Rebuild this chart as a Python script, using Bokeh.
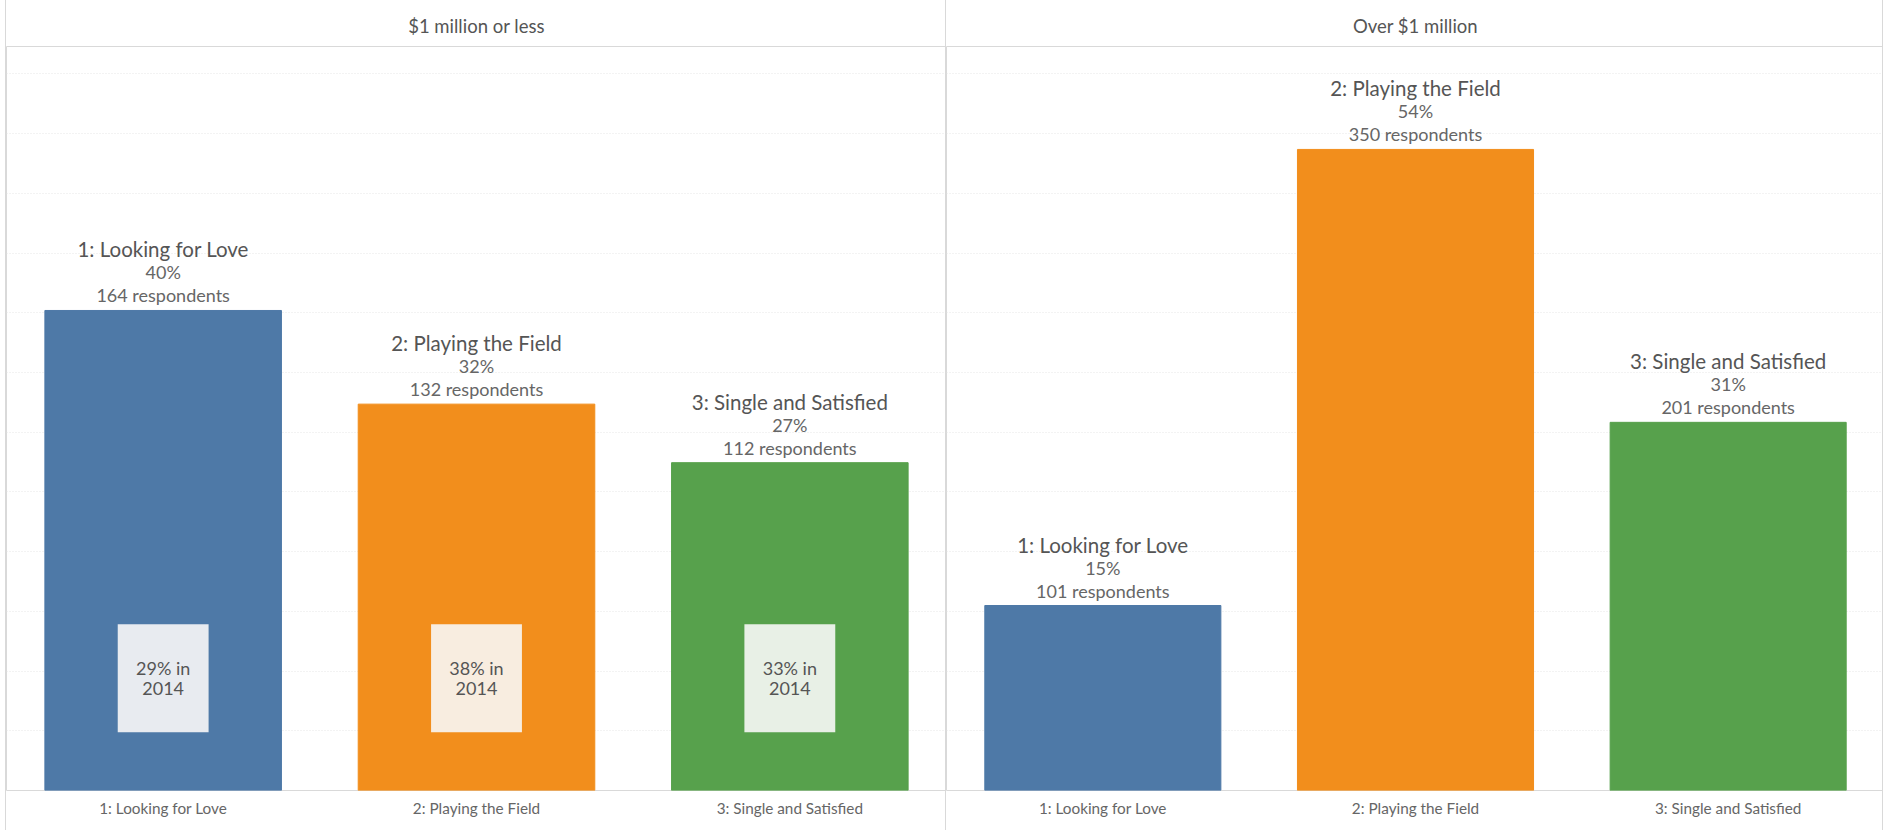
from bokeh.plotting import figure
from bokeh.models import ColumnDataSource, FactorRange, Range1d, FixedTicker
from bokeh.layouts import row
from bokeh.embed import file_html
from bokeh.resources import INLINE
from bokeh.core.properties import value

# ---- data ----
categories = ["1: Looking for Love", "2: Playing the Field", "3: Single and Satisfied"]
panel_titles = ["$1 million or less", "Over $1 million"]
respondents_low = [164, 132, 112]
respondents_high = [101, 350, 201]
pct_2014_low = [29, 38, 33]
bar_colors = ["#4e79a7", "#f28e1c", "#57a14c"]
inset_colors = ["#e8ebf0", "#f8ede0", "#e8f0e6"]
grid_values = [0, 5, 10, 15, 20, 25, 30, 35, 40, 45, 50, 55, 60]

FONT = "Lato"
Y_MAX = 62.3
INSET_Y = 9.4
BORDER = "#d9d9d9"


def make_panel(title, resp, width, min_left, styles, inset_pct=None):
    total = sum(resp)
    share = [r / total * 100 for r in resp]
    src = ColumnDataSource(dict(
        cat=categories,
        share=share,
        color=bar_colors,
        pct=[f"{round(s)}%" for s in share],
        resp=[f"{r} respondents" for r in resp],
    ))
    p = figure(x_range=FactorRange(*categories), y_range=Range1d(0, Y_MAX),
               width=width, height=830, output_backend="svg", toolbar_location=None,
               min_border_left=min_left, min_border_right=0, min_border_top=46,
               min_border_bottom=40, styles=styles)
    p.title.text = title
    p.title.align = "center"
    p.title.text_font = FONT
    p.title.text_font_size = "18.5px"
    p.title.text_font_style = "normal"
    p.title.text_color = "#555555"
    p.title.standoff = 20

    p.outline_line_color = BORDER
    p.outline_line_width = 1
    p.yaxis.visible = False
    p.xgrid.grid_line_color = None
    p.ygrid.ticker = FixedTicker(ticks=grid_values)
    p.ygrid.grid_line_color = "#e6e6e6"
    p.ygrid.grid_line_dash = "1 2"

    ax = p.xaxis[0]
    ax.axis_line_color = None
    ax.major_tick_line_color = None
    ax.major_tick_out = 0
    ax.major_tick_in = 0
    ax.major_label_standoff = 8
    ax.major_label_text_font = FONT
    ax.major_label_text_font_size = "15.3px"
    ax.major_label_text_color = "#666666"

    p.vbar(x="cat", top="share", width=0.755, color="color", source=src)

    p.text(x="cat", y="share", text="cat", source=src, y_offset=-61,
           text_align="center", text_baseline="middle", text_font=value(FONT),
           text_font_size="20.5px", text_color="#555555")
    p.text(x="cat", y="share", text="pct", source=src, y_offset=-38,
           text_align="center", text_baseline="middle", text_font=value(FONT),
           text_font_size="18px", text_color="#666666")
    p.text(x="cat", y="share", text="resp", source=src, y_offset=-15,
           text_align="center", text_baseline="middle", text_font=value(FONT),
           text_font_size="18px", text_color="#666666")

    if inset_pct is not None:
        isrc = ColumnDataSource(dict(
            cat=categories, y=[INSET_Y] * 3, color=inset_colors,
            l1=[f"{v}% in" for v in inset_pct], l2=["2014"] * 3))
        p.rect(x="cat", y="y", width=0.29, height=108, height_units="screen",
               fill_color="color", line_color=None, source=isrc)
        p.text(x="cat", y="y", text="l1", source=isrc, y_offset=-10.5,
               text_align="center", text_baseline="middle", text_font=value(FONT),
               text_font_size="18px", text_color="#555555")
        p.text(x="cat", y="y", text="l2", source=isrc, y_offset=10.5,
               text_align="center", text_baseline="middle", text_font=value(FONT),
               text_font_size="18px", text_color="#555555")
    return p


p1 = make_panel(panel_titles[0], respondents_low, 940, 0,
                {"border-left": f"1px solid {BORDER}", "margin-left": "5px"}, pct_2014_low)
p2 = make_panel(panel_titles[1], respondents_high, 938, 0,
                {"border-left": f"1px solid {BORDER}", "border-right": f"1px solid {BORDER}"})

layout = row(p1, p2)
open("out.html", "w").write(file_html(layout, INLINE))
